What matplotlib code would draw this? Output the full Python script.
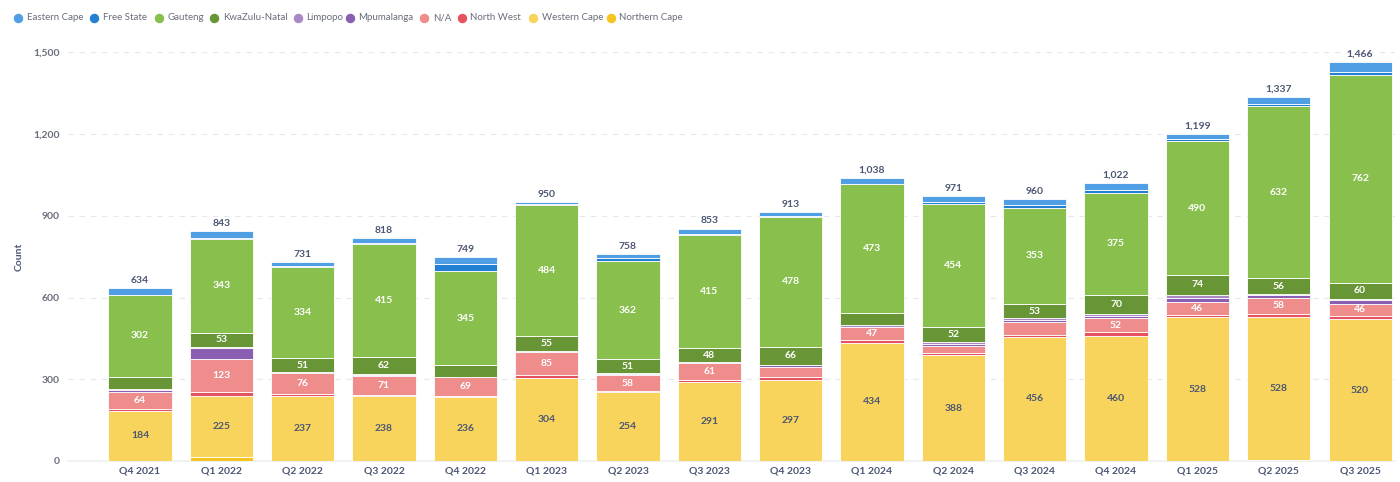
import matplotlib
matplotlib.use("Agg")
import matplotlib.pyplot as plt
import numpy as np

plt.rcParams['font.family'] = ['Lato', 'DejaVu Sans']

quarters = ["Q4 2021", "Q1 2022", "Q2 2022", "Q3 2022", "Q4 2022", "Q1 2023", "Q2 2023",
            "Q3 2023", "Q4 2023", "Q1 2024", "Q2 2024", "Q3 2024", "Q4 2024", "Q1 2025",
            "Q2 2025", "Q3 2025"]

# stacked bottom -> top
northern_cape = [0, 15, 0, 0, 0, 0, 0, 0, 0, 0, 0, 0, 0, 0, 2, 0]
western_cape = [184, 225, 237, 238, 236, 304, 254, 291, 297, 434, 388, 456, 460, 528, 528, 520]
north_west = [7, 12, 10, 4, 2, 10, 3, 7, 10, 10, 8, 8, 12, 9, 11, 12]
na_vals = [64, 123, 76, 71, 69, 85, 58, 61, 39, 47, 25, 45, 52, 46, 58, 46]
mpumalanga = [6, 40, 2, 4, 0, 1, 4, 3, 5, 1, 9, 10, 10, 17, 11, 12]
limpopo = [3, 3, 1, 3, 2, 2, 3, 3, 2, 8, 8, 5, 6, 9, 4, 4]
kwazulu_natal = [44, 53, 51, 62, 42, 55, 51, 48, 66, 43, 52, 53, 70, 74, 56, 60]
gauteng = [302, 343, 334, 415, 345, 484, 362, 415, 478, 473, 454, 353, 375, 490, 632, 762]
free_state = [0, 4, 5, 3, 26, 2, 9, 5, 2, 1, 8, 9, 11, 8, 10, 12]
eastern_cape = [24, 25, 15, 18, 27, 7, 14, 20, 14, 21, 19, 21, 26, 18, 25, 38]
totals = [634, 843, 731, 818, 749, 950, 758, 853, 913, 1038, 971, 960, 1022, 1199, 1337, 1466]

legend_order = ["Eastern Cape", "Free State", "Gauteng", "KwaZulu-Natal", "Limpopo",
                "Mpumalanga", "N/A", "North West", "Western Cape", "Northern Cape"]

series = {
    "Northern Cape": northern_cape,
    "Western Cape": western_cape,
    "North West": north_west,
    "N/A": na_vals,
    "Mpumalanga": mpumalanga,
    "Limpopo": limpopo,
    "KwaZulu-Natal": kwazulu_natal,
    "Gauteng": gauteng,
    "Free State": free_state,
    "Eastern Cape": eastern_cape,
}
colors = {
    "Eastern Cape": "#509EE3",
    "Free State": "#227FD2",
    "Gauteng": "#88BF4D",
    "KwaZulu-Natal": "#689636",
    "Limpopo": "#A989C5",
    "Mpumalanga": "#8A5EB0",
    "N/A": "#EF8C8C",
    "North West": "#E75260",
    "Western Cape": "#F9D45C",
    "Northern Cape": "#F7C41F",
}
label_colors = {
    "Western Cape": "#4C5773",
}

W, H = 1400, 482
fig = plt.figure(figsize=(14, 4.82), dpi=100)
ax = fig.add_axes([68/W, 1 - 461/H, (1395-68)/W, (461-52.3)/H])

x = np.arange(len(quarters))
width = 0.775
bottom = np.zeros(len(quarters))
for name, vals in series.items():
    vals = np.array(vals, dtype=float)
    ax.bar(x, vals, width, bottom=bottom, color=colors[name], edgecolor="white",
           linewidth=0.6, zorder=3)
    for i, v in enumerate(vals):
        if v >= 46:
            ax.text(x[i], bottom[i] + v / 2, f"{int(v)}", ha="center", va="center",
                    fontsize=7.5, fontweight="bold",
                    color=label_colors.get(name, "white"), zorder=4)
    bottom += vals

for i, t in enumerate(totals):
    ax.text(x[i], bottom[i] + 12, f"{t:,}", ha="center", va="bottom", fontsize=7.5,
            fontweight="bold", color="#4C5773", zorder=4)

ax.set_xlim(-0.885, len(quarters) - 1 + 0.43)
ax.set_ylim(0, 1500)
ax.set_yticks([0, 300, 600, 900, 1200, 1500])
ax.set_yticklabels(["0", "300", "600", "900", "1,200", "1,500"])
ax.set_xticks(x)
ax.set_xticklabels(quarters)
for lab in ax.get_xticklabels():
    lab.set_fontweight("bold")
    lab.set_color("#4C5773")
    lab.set_fontsize(7.5)
for lab in ax.get_yticklabels():
    lab.set_fontweight("bold")
    lab.set_color("#696E7B")
    lab.set_fontsize(7.5)
ax.tick_params(axis="both", length=0)
ax.tick_params(axis="y", pad=6)
ax.tick_params(axis="x", pad=4)
ax.grid(axis="y", color="#E6E8EB", linestyle=(0, (5, 5)), linewidth=0.8, zorder=0)
ax.set_axisbelow(True)
for s in ["top", "right", "left"]:
    ax.spines[s].set_visible(False)
ax.spines["bottom"].set_color("#EEEFF1")
ax.spines["bottom"].set_linewidth(1.2)
ax.set_ylabel("Count", fontsize=7.5, fontweight="bold", color="#4C5773")
ax.yaxis.set_label_coords((23.5 - 68) / (1395 - 68), 0.5)

# legend: circle markers followed by labels, laid out along the top
marker_px = [18.3, 94.3, 159, 214.3, 297.7, 350, 424.3, 461.7, 533.3, 610.7]
leg_y = 1 - 17.7 / H
for name, mx in zip(legend_order, marker_px):
    fig.lines.append(plt.Line2D([mx / W], [leg_y], marker="o", markersize=5.8,
                                color=colors[name], linestyle="", transform=fig.transFigure))
    fig.text((mx + 8.4) / W, leg_y, name, ha="left", va="center", fontsize=7.0,
             color="#696E7B")

fig.savefig("out.png", dpi=100)
